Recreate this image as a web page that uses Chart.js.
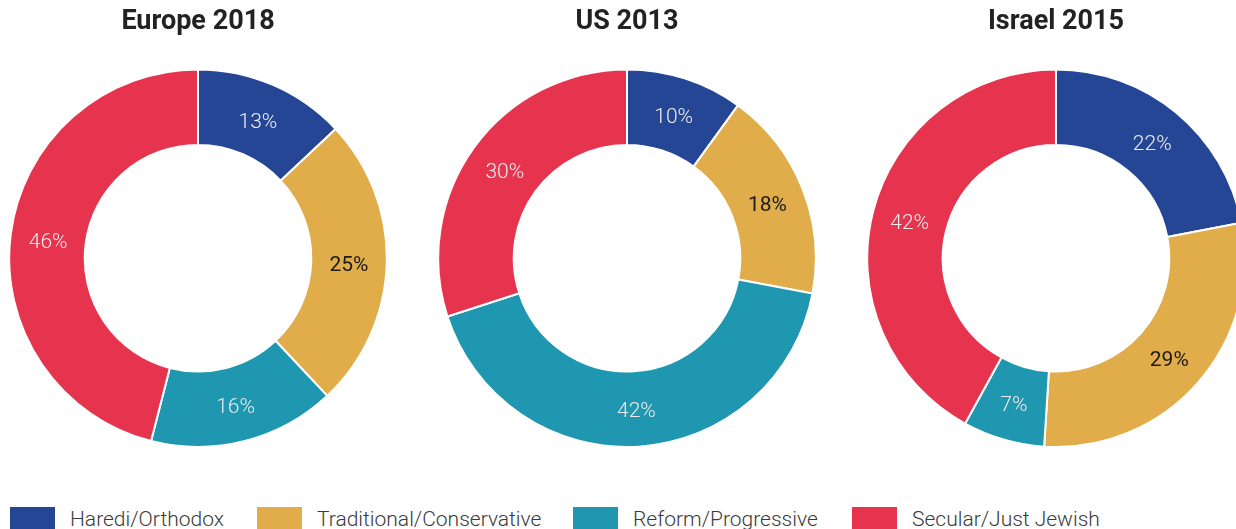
<!DOCTYPE html>
<html>
<head>
<meta charset="utf-8">
<script src="https://cdn.jsdelivr.net/npm/chart.js@4.4.1/dist/chart.umd.min.js"></script>
<style>
  html, body { margin: 0; padding: 0; background: #fff; width: 1236px; height: 529px; overflow: hidden; position: relative; }
  .pie { position: absolute; top: 0; }
  #legend { position: absolute; left: 0; top: 507px; width: 1236px; height: 22px; font-family: "Roboto", sans-serif; font-weight: 300; font-size: 21px; color: #3a3a3a; }
  .item { position: absolute; top: 0; height: 23px; display: flex; align-items: center; }
  .sw { width: 45px; height: 23px; margin-right: 15px; }
  .lbl { white-space: nowrap; }
</style>
</head>
<body>
<canvas id="c0" class="pie" width="380" height="448" style="left:8px"></canvas>
<canvas id="c1" class="pie" width="380" height="448" style="left:437px"></canvas>
<canvas id="c2" class="pie" width="380" height="448" style="left:866px"></canvas>
<div id="legend"></div>
<script>
// Denomination groups and survey shares (%)
const categories = ["Haredi/Orthodox", "Traditional/Conservative", "Reform/Progressive", "Secular/Just Jewish"];
const titles = ["Europe 2018", "US 2013", "Israel 2015"];
const europe2018 = [13, 25, 16, 46];
const us2013 = [10, 18, 42, 30];
const israel2015 = [22, 29, 7, 42];
const colors = ["#254695", "#E1AD4A", "#1F97B0", "#E6344F"];
const labelColors = ["#ececec", "#1c1c1c", "#ececec", "#ececec"];
const labelWeights = ["300", "400", "300", "300"];

// Percentage labels placed at each arc's centre point
const arcLabels = {
  id: "arcLabels",
  afterDatasetsDraw(chart) {
    const ctx = chart.ctx;
    const ds = chart.data.datasets[0];
    chart.getDatasetMeta(0).data.forEach((arc, i) => {
      const p = arc.tooltipPosition();
      ctx.save();
      ctx.font = labelWeights[i] + " 21px Roboto, sans-serif";
      ctx.fillStyle = labelColors[i];
      ctx.textAlign = "center";
      ctx.textBaseline = "middle";
      ctx.fillText(ds.data[i] + "%", p.x, p.y + 3);
      ctx.restore();
    });
  }
};

const series = [europe2018, us2013, israel2015];
series.forEach((values, k) => {
  new Chart(document.getElementById("c" + k), {
    type: "doughnut",
    data: {
      labels: categories,
      datasets: [{
        data: values,
        backgroundColor: colors,
        borderColor: "#ffffff",
        borderWidth: 2
      }]
    },
    options: {
      responsive: false,
      animation: false,
      devicePixelRatio: 1,
      cutout: "60%",
      layout: { padding: 0 },
      plugins: {
        legend: { display: false },
        tooltip: { enabled: false },
        title: {
          display: true,
          text: titles[k],
          color: "#222222",
          font: { family: "Roboto, sans-serif", size: 27, weight: "bold" },
          padding: { top: 6, bottom: 30 }
        }
      }
    },
    plugins: [arcLabels]
  });
});

// Shared legend row
const legendX = [10, 257, 573, 852];
const legend = document.getElementById("legend");
categories.forEach((name, i) => {
  const item = document.createElement("div");
  item.className = "item";
  item.style.left = legendX[i] + "px";
  const sw = document.createElement("div");
  sw.className = "sw";
  sw.style.background = colors[i];
  const lbl = document.createElement("span");
  lbl.className = "lbl";
  lbl.textContent = name;
  item.appendChild(sw);
  item.appendChild(lbl);
  legend.appendChild(item);
});
</script>
</body>
</html>
